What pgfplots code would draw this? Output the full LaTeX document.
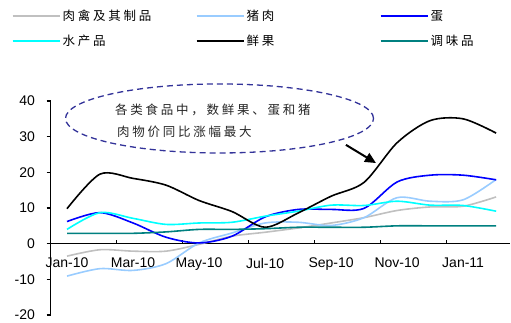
\documentclass[border=0pt]{standalone}
\usepackage{fontspec}
\setmainfont{Liberation Sans}
\newfontfamily\cjk[LetterSpace=22]{Noto Sans CJK SC}
\usepackage{pgfplots}
\pgfplotsset{compat=1.18}
\usetikzlibrary{arrows.meta}
\definecolor{cgray}{HTML}{C0C0C0}
\definecolor{clblue}{HTML}{99CCFF}
\definecolor{cblue}{HTML}{0000FF}
\definecolor{ccyan}{HTML}{00FFFF}
\definecolor{cteal}{HTML}{008080}
\definecolor{cdash}{HTML}{333399}
\begin{document}
\begin{tikzpicture}
\useasboundingbox (0,0) rectangle (511pt,323pt);
\begin{axis}[
  at={(50.5pt,8pt)}, anchor=south west,
  scale only axis, width=459.5pt, height=214pt,
  xmin=-0.5, xmax=13.42, ymin=-20, ymax=40,
  axis x line=middle, axis y line=left,
  axis line style={line width=1.2pt, -},
  clip=false,
  xtick={0,2,...,12},
  xticklabels={Jan-10,Mar-10,May-10,Jul-10,Sep-10,Nov-10,Jan-11},
  minor xtick={-0.5,1.5,...,11.5},
  major x tick style={draw=none},
  minor x tick style={line width=1.2pt, black},
  minor tick length=4pt,
  xtick align=inside,
  ytick={-20,-10,...,40},
  ytick align=outside,
  major y tick style={line width=1.2pt, black},
  major tick length=4pt,
  tick label style={font=\fontsize{14}{16}\selectfont},
  /pgf/number format/assume math mode=true,
  yticklabel style={xshift=-8pt},
  xticklabel style={yshift=-11pt},
  legend columns=3,
  legend cell align=left,
  legend style={at={(axis description cs:-0.085,1.436)}, anchor=north west,
    draw=none, fill=none, inner sep=0pt,
    font=\cjk\fontsize{12.5}{14}\selectfont,
    row sep=9pt,
    /tikz/every even column/.append style={column sep=4pt}},
  legend image code/.code={\draw[#1, line width=2pt] (0pt,0pt) -- (47pt,0pt);},
  every axis plot/.append style={line width=1.6pt, smooth, tension=0.5},
]
\addplot[cgray] coordinates {(0,-3.5)(1,-1.7)(2,-2.1)(3,-2.1)(4,-0.2)(5,2.1)(6,3.2)(7,4.4)(8,5.8)(9,7.3)(10,9.3)(11,10.3)(12,10.5)(13,13.1)};
\addlegendentry{\makebox[127pt][l]{肉禽及其制品}}
\addplot[clblue] coordinates {(0,-9.1)(1,-7.0)(2,-7.5)(3,-5.6)(4,0.2)(5,3.0)(6,5.8)(7,6.0)(8,5.1)(9,7.3)(10,12.9)(11,11.9)(12,12.3)(13,18.0)};
\addlegendentry{\makebox[127pt][l]{猪肉}}
\addplot[cblue] coordinates {(0,6.2)(1,8.7)(2,5.8)(3,1.8)(4,0.2)(5,2.1)(6,7.5)(7,9.6)(8,9.6)(9,9.9)(10,17.3)(11,19.2)(12,19.2)(13,17.9)};
\addlegendentry{\makebox[60pt][l]{蛋}}
\addplot[ccyan] coordinates {(0,4.0)(1,8.7)(2,7.1)(3,5.4)(4,5.8)(5,6.0)(6,7.7)(7,9.1)(8,10.8)(9,10.7)(10,11.9)(11,10.8)(12,10.7)(13,9.1)};
\addlegendentry{\makebox[127pt][l]{水产品}}
\addplot[black] coordinates {(0,9.8)(1,19.5)(2,18.3)(3,16.4)(4,12.1)(5,9.0)(6,4.6)(7,8.6)(8,13.3)(9,17.2)(10,28.3)(11,34.5)(12,35.0)(13,31.0)};
\addlegendentry{\makebox[127pt][l]{鲜果}}
\addplot[cteal] coordinates {(0,2.9)(1,2.9)(2,2.9)(3,3.3)(4,4.0)(5,4.0)(6,4.2)(7,4.6)(8,4.6)(9,4.6)(10,5.0)(11,5.0)(12,5.0)(13,5.0)};
\addlegendentry{\makebox[60pt][l]{调味品}}
\draw[cdash, line width=1.3pt, dash pattern=on 6pt off 4pt] (axis cs:4.62,35.1) ellipse [x radius=154pt, y radius=34.5pt];
\node[anchor=west, inner sep=0pt, text=black!85, font=\cjk\fontsize{12.5}{14}\selectfont] at (axis cs:1.455,37.5) {各类食品中，数鲜果、蛋和猪};
\node[anchor=west, inner sep=0pt, text=black!85, font=\cjk\fontsize{12.5}{14}\selectfont] at (axis cs:1.515,31.3) {肉物价同比涨幅最大};
\draw[-{Triangle[length=11pt,width=10pt]}, line width=2pt] (axis cs:8.45,27.7) -- (axis cs:9.36,22.6);
\end{axis}
\end{tikzpicture}
\end{document}
